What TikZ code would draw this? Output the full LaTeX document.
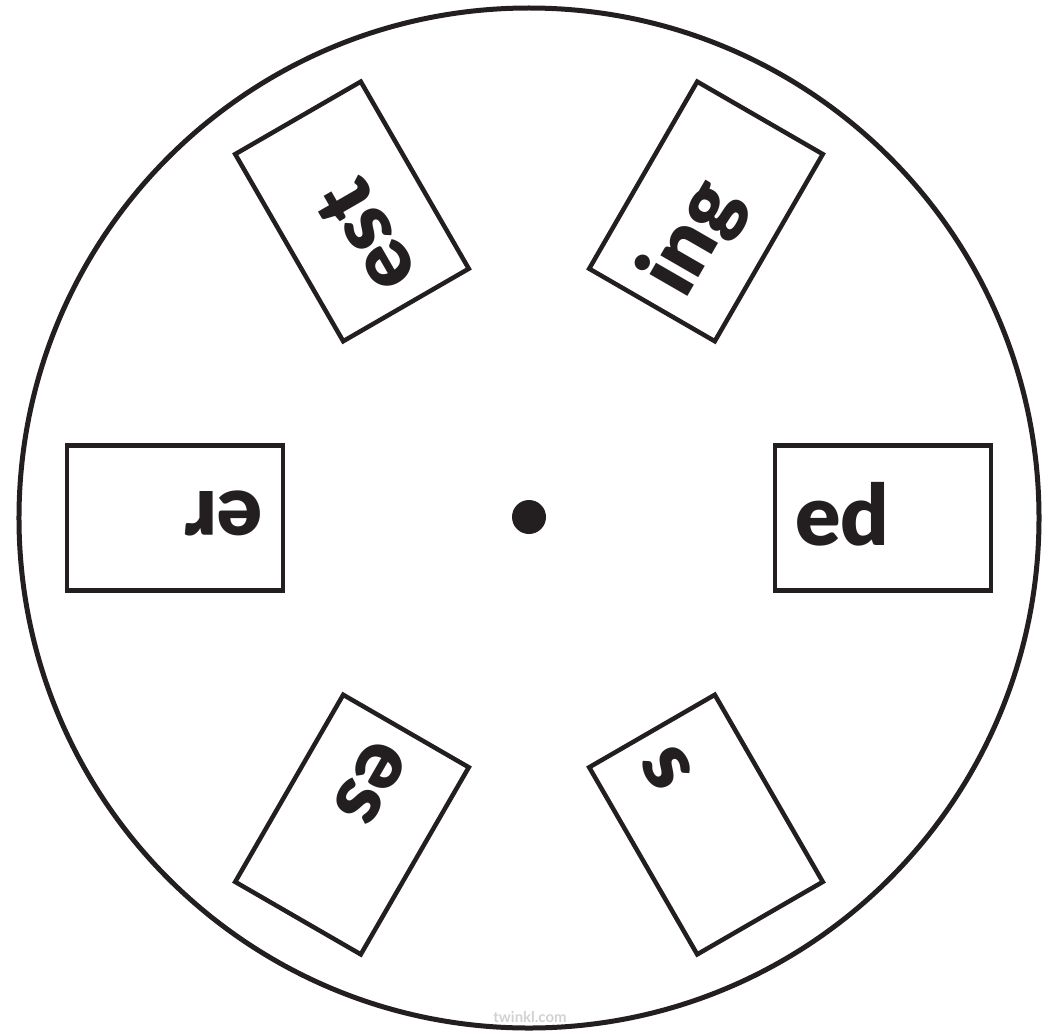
\documentclass[tikz,border=0pt]{standalone}
\usepackage{fontspec}
\setmainfont{Lato}
\newfontfamily\wordfont{Lato Black}
\definecolor{ink}{HTML}{231F20}

\begin{document}
\begin{tikzpicture}[x=0.2mm, y=0.2mm,
    wordbox/.style={draw=ink, line width=0.9mm, minimum width=43.2mm, minimum height=29mm, inner sep=0pt},
    word/.style={text=ink, font=\wordfont\fontsize{48}{50}\selectfont, inner sep=0pt, anchor=base west}]
    \useasboundingbox (-529,-512) rectangle (522,518);

    % Wheel and centre pin
    \draw[ink, line width=1mm] (0,0) circle[radius=510];
    \fill[ink] (0,1) circle[radius=17] node (pin) {};

    % Six word boxes, text at the inner end
    \foreach \a/\w in {0/ed, 60/ing, 120/est, 180/er, 240/es, 300/s} {
        \begin{scope}[rotate=\a]
            \node[wordbox, rotate=\a] (box-\w) at (354,0) {};
            \node[word, rotate=\a] (label-\w) at (266,-27) {\w};
        \end{scope}
    }

    % Watermark
    \node[text=black!18, font=\bfseries\fontsize{8.5}{10}\selectfont] (mark) at (1,-499) {twinkl.com};
\end{tikzpicture}
\end{document}
